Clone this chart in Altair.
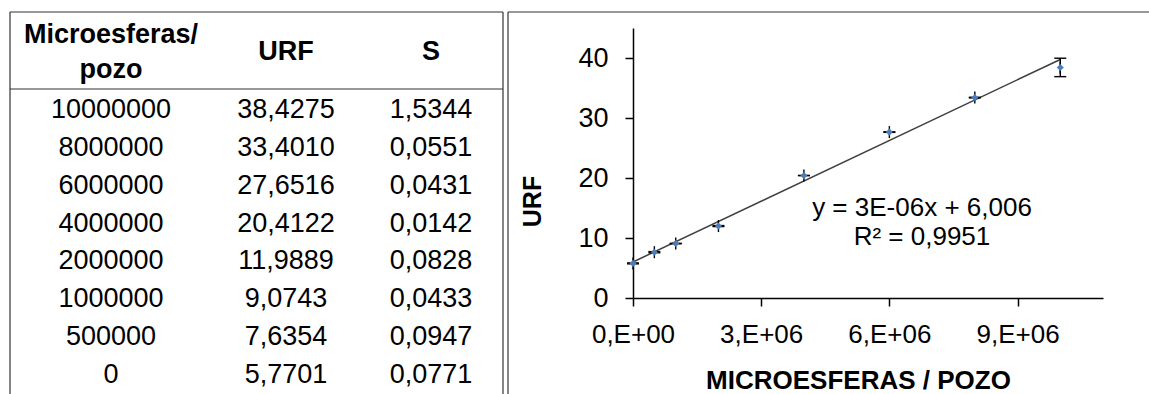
import altair as alt
import pandas as pd

FONT = "Liberation Sans"

# ---- data ----
microesferas = [10000000, 8000000, 6000000, 4000000, 2000000, 1000000, 500000, 0]
urf = [38.4275, 33.4010, 27.6516, 20.4122, 11.9889, 9.0743, 7.6354, 5.7701]
s_dev = [1.5344, 0.0551, 0.0431, 0.0142, 0.0828, 0.0433, 0.0947, 0.0771]

header_col1 = ["Microesferas/", "pozo"]
header_col2 = "URF"
header_col3 = "S"

y_tick_values = [0, 10, 20, 30, 40]
x_tick_values = [0, 3000000, 6000000, 9000000]
x_tick_labels = ["0,E+00", "3,E+06", "6,E+06", "9,E+06"]

x_title = "MICROESFERAS / POZO"
y_title = "URF"
eq_label = "y = 3E-06x + 6,006"
r2_label = "R² = 0,9951"

# ---- tables built from the arrays ----
df = pd.DataFrame({
    "row": list(range(len(microesferas))),
    "micro": microesferas,
    "urf": urf,
    "s": s_dev,
    "micro_txt": [str(v) for v in microesferas],
    "urf_txt": [f"{v:.4f}".replace(".", ",") for v in urf],
    "s_txt": [f"{v:.4f}".replace(".", ",") for v in s_dev],
})
one = pd.DataFrame({"k": [0]})

# ---- table (left) ----
row_y = alt.Y("row:Q", scale=alt.Scale(domain=[0, 7], range=[82, 347]), axis=None)
cell = alt.Chart(df).mark_text(font=FONT, fontSize=27, color="black",
                               align="center", baseline="middle")
c1 = cell.encode(x=alt.value(-522), y=row_y, text="micro_txt:N")
c2 = cell.encode(x=alt.value(-347), y=row_y, text="urf_txt:N")
c3 = cell.encode(x=alt.value(-202), y=row_y, text="s_txt:N")

hdr = alt.Chart(one).mark_text(font=FONT, fontSize=27, fontWeight="bold",
                               color="black", align="center", baseline="alphabetic")
h1 = hdr.encode(x=alt.value(-522), y=alt.value(15), text=alt.value(header_col1[0]))
h2 = hdr.encode(x=alt.value(-522), y=alt.value(50), text=alt.value(header_col1[1]))
h3 = hdr.encode(x=alt.value(-347), y=alt.value(32), text=alt.value(header_col2))
h4 = hdr.encode(x=alt.value(-202), y=alt.value(32), text=alt.value(header_col3))

line = alt.Chart(one).mark_rule(color="#333333", strokeWidth=1.2)
b_left = line.encode(x=alt.value(-623), y=alt.value(-16), y2=alt.value(370))
b_right = line.encode(x=alt.value(-130), y=alt.value(-16), y2=alt.value(370))
b_chart = line.encode(x=alt.value(-125), y=alt.value(-16), y2=alt.value(370))
b_top = line.encode(x=alt.value(-623), x2=alt.value(-130), y=alt.value(-16))
b_sep = line.encode(x=alt.value(-623), x2=alt.value(-130), y=alt.value(61))
b_ctop = line.encode(x=alt.value(-125), x2=alt.value(520), y=alt.value(-16))

table = alt.layer(b_left, b_right, b_chart, b_top, b_sep, b_ctop,
                  h1, h2, h3, h4, c1, c2, c3)

# ---- scatter chart (right) ----
label_expr = "".join(f"datum.value == {v} ? '{l}' : " for v, l in zip(x_tick_values, x_tick_labels)) + "''"

x_axis = alt.Axis(values=x_tick_values, labelExpr=label_expr, grid=False,
                  domainColor="black", domainWidth=1.5, tickColor="black",
                  tickWidth=1.5, tickSize=8, labelFont=FONT, labelFontSize=26,
                  labelColor="black", labelPadding=15, labelFlush=False,
                  labelOverlap=False, titleFont=FONT, titleFontSize=26,
                  titleFontWeight="bold", titleColor="black", titleX=225,
                  titleY=82, titleAlign="center", titleBaseline="middle")
y_axis = alt.Axis(values=y_tick_values, grid=False, domainColor="black",
                  domainWidth=1.5, tickColor="black", tickWidth=1.5, tickSize=8,
                  labelFont=FONT, labelFontSize=27, labelColor="black",
                  labelPadding=17, labelFlush=False, titleFont=FONT,
                  titleFontSize=25, titleFontWeight="bold", titleColor="black",
                  titleX=-101, titleY=173, titleAlign="center",
                  titleBaseline="middle", titleAngle=270)

x_scale = alt.Scale(domain=[0, 11000000], nice=False)
y_scale = alt.Scale(domain=[0, 45], nice=False)


def X(field):
    return alt.X(f"{field}:Q", scale=x_scale, axis=x_axis, title=x_title)


def Y(field):
    return alt.Y(f"{field}:Q", scale=y_scale, axis=y_axis, title=y_title)


trend = alt.Chart(df).transform_regression("micro", "urf").mark_line(
    color="#404040", strokeWidth=1.5).encode(x=X("micro"), y=Y("urf"))

errbase = alt.Chart(df).transform_calculate(lo="datum.urf - datum.s",
                                            hi="datum.urf + datum.s")
err = errbase.mark_rule(color="black", strokeWidth=1.4).encode(
    x=X("micro"), y=Y("lo"), y2="hi:Q")
cap_style = dict(shape="M-1,0L1,0", size=144, filled=False, color="black",
                 strokeWidth=1.4, opacity=1)
cap_lo = errbase.mark_point(**cap_style).encode(x=X("micro"), y=Y("lo"))
cap_hi = errbase.mark_point(**cap_style).encode(x=X("micro"), y=Y("hi"))
vcross = alt.Chart(df).mark_point(shape="M0,-1L0,1", size=144, filled=False,
                                  color="black", strokeWidth=1.4, opacity=1).encode(
    x=X("micro"), y=Y("urf"))
pts = alt.Chart(df).mark_point(shape="diamond", filled=True, size=50,
                               color="#4A7EBB", opacity=1).encode(
    x=X("micro"), y=Y("urf"))

eq = alt.Chart(one).mark_text(font=FONT, fontSize=26, color="black",
                              align="center", baseline="middle")
eq1 = eq.encode(x=alt.value(289), y=alt.value(180), text=alt.value(eq_label))
eq2 = eq.encode(x=alt.value(289), y=alt.value(209), text=alt.value(r2_label))

scatter = alt.layer(trend, err, cap_lo, cap_hi, vcross, pts, eq1, eq2)

chart = alt.layer(table, scatter).resolve_scale(y="independent").properties(
    width=470, height=270,
    padding={"left": 633, "top": 28, "right": 46, "bottom": 96},
    autosize=alt.AutoSizeParams(type="none"),
    background="white",
).configure_view(strokeWidth=0)

chart.save("out.html", embed_options={"renderer": "svg", "actions": False})
